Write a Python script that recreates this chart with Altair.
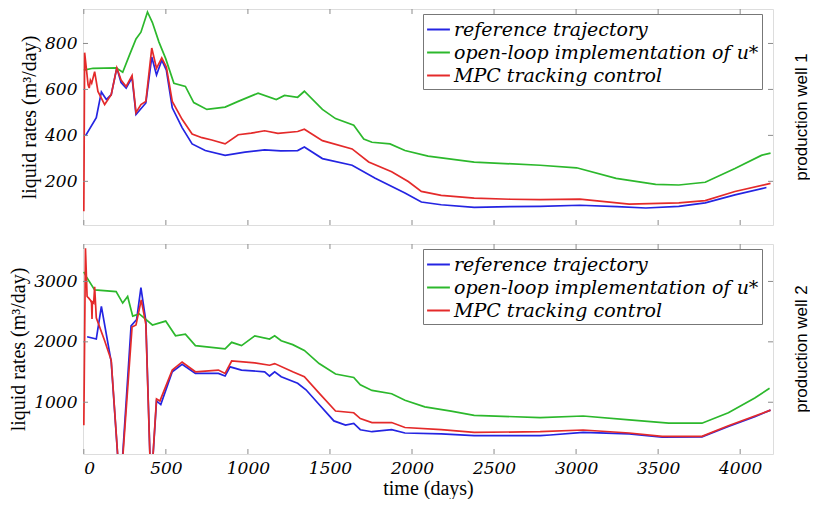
import altair as alt
import pandas as pd

SERIES = ["reference trajectory", "open-loop implementation of u*", "MPC tracking control"]
COLORS = ["#2424e2", "#2cb82c", "#e42a2a"]

# ---- production well 1 ----
w1_ref_days = [10, 76, 107, 137, 167, 201, 227, 258, 294, 318, 378, 414, 443, 475, 503, 539, 599, 660, 740, 861, 982, 1102, 1200, 1303, 1344, 1454, 1635, 1776, 1957, 2057, 2178, 2379, 2600, 2781, 3023, 3250, 3425, 3626, 3787, 3968, 4160]
w1_ref_vals = [398, 477, 589, 556, 577, 694, 630, 606, 652, 491, 541, 741, 663, 727, 684, 520, 434, 363, 334, 313, 327, 337, 333, 334, 349, 299, 270, 213, 149, 110, 98, 87, 90, 91, 96, 90, 84, 91, 106, 141, 173]

w1_ol_days = [0, 56, 197, 237, 278, 318, 348, 388, 418, 458, 499, 549, 619, 670, 750, 861, 941, 1062, 1173, 1223, 1303, 1344, 1454, 1534, 1645, 1706, 1756, 1866, 1957, 2098, 2379, 2781, 3003, 3244, 3485, 3626, 3787, 3968, 4129, 4185]
w1_ol_vals = [684, 692, 694, 675, 749, 820, 849, 937, 891, 806, 734, 627, 613, 543, 513, 523, 548, 584, 556, 574, 566, 592, 513, 473, 444, 384, 370, 363, 334, 310, 284, 270, 259, 213, 187, 184, 196, 256, 313, 323]

w1_mpc_days = [0, 5, 26, 33, 40, 48, 66, 86, 127, 167, 201, 227, 258, 294, 318, 348, 378, 414, 443, 475, 503, 539, 599, 660, 720, 780, 861, 941, 1020, 1102, 1183, 1303, 1344, 1454, 1635, 1736, 1876, 1977, 2057, 2178, 2379, 2600, 2781, 3023, 3324, 3626, 3787, 3968, 4185]
w1_mpc_vals = [70, 760, 620, 606, 640, 627, 677, 591, 534, 577, 694, 641, 613, 660, 499, 534, 548, 780, 692, 737, 698, 548, 470, 406, 390, 380, 363, 403, 410, 420, 409, 417, 427, 377, 341, 284, 242, 199, 156, 139, 127, 122, 120, 123, 101, 106, 116, 156, 191]

# ---- production well 2 ----
w2_ref_days = [20, 76, 107, 137, 167, 222, 288, 322, 348, 378, 409, 443, 469, 539, 599, 680, 820, 861, 891, 961, 1102, 1132, 1163, 1203, 1303, 1354, 1434, 1524, 1595, 1645, 1685, 1756, 1876, 1957, 2178, 2379, 2781, 2842, 3043, 3324, 3525, 3767, 3928, 4089, 4185]
w2_ref_vals = [2084, 2046, 2588, 2127, 1667, -500, 2263, 2371, 2898, 2344, -430, 1022, 962, 1504, 1629, 1477, 1477, 1434, 1586, 1532, 1504, 1434, 1504, 1423, 1314, 1206, 962, 691, 621, 648, 545, 512, 545, 491, 475, 447, 447, 458, 501, 475, 420, 428, 599, 761, 870]

w2_ol_days = [0, 16, 66, 197, 237, 267, 298, 338, 378, 418, 499, 559, 619, 680, 861, 901, 961, 1042, 1132, 1163, 1203, 1273, 1344, 1434, 1534, 1645, 1685, 1756, 1876, 1957, 2078, 2238, 2379, 2781, 3043, 3324, 3565, 3767, 3928, 4089, 4179]
w2_ol_vals = [3157, 3076, 2859, 2832, 2642, 2751, 2426, 2463, 2371, 2279, 2344, 2100, 2127, 1938, 1883, 1992, 1938, 2100, 2046, 2100, 2019, 1954, 1857, 1640, 1467, 1411, 1288, 1195, 1141, 1033, 924, 854, 783, 745, 772, 707, 653, 653, 826, 1070, 1232]

w2_mpc_days = [0, 10, 20, 30, 40, 47, 50, 52, 60, 66, 76, 127, 167, 222, 294, 318, 350, 378, 409, 443, 464, 539, 599, 680, 820, 861, 901, 1042, 1132, 1163, 1273, 1344, 1434, 1534, 1645, 1685, 1756, 1876, 1957, 2178, 2379, 2781, 3043, 3324, 3525, 3767, 3928, 4089, 4185]
w2_mpc_vals = [620, 3548, 2751, 2724, 2690, 2650, 2380, 2660, 2640, 2913, 2398, 2019, 1694, -500, 2247, 2279, 2696, 2290, -430, 1054, 1022, 1532, 1667, 1504, 1532, 1477, 1683, 1651, 1613, 1640, 1504, 1423, 1152, 854, 826, 729, 664, 664, 582, 545, 501, 512, 540, 491, 436, 436, 610, 772, 870]

x_ticks = [0, 500, 1000, 1500, 2000, 2500, 3000, 3500, 4000]
w1_y_ticks = [200, 400, 600, 800]
w2_y_ticks = [1000, 2000, 3000]

W = 690
FRAME = "#8c8c8c"


def build(series_lists):
    rows = []
    for name, (days, vals) in zip(SERIES, series_lists):
        for i, (d, v) in enumerate(zip(days, vals)):
            rows.append({"day": d, "rate": v, "series": name, "idx": i})
    return pd.DataFrame(rows)


def panel(df, y_domain, y_ticks, height, show_x, right_title):
    xs = alt.Scale(domain=[-5, 4200], nice=False, zero=False)
    ys = alt.Scale(domain=y_domain, nice=False, zero=False)
    if show_x:
        xaxis = alt.Axis(values=x_ticks, format="d", ticks=False, domain=False, grid=False,
                         labelFont="DejaVu Serif", labelFontStyle="italic", labelFontSize=17,
                         labelColor="black", labelPadding=6, title="time (days)",
                         titleFont="Liberation Serif", titleFontSize=20, titleFontWeight="normal",
                         titleColor="black", titlePadding=2)
    else:
        xaxis = alt.Axis(values=x_ticks, ticks=False, domain=False, grid=False,
                         labels=False, title=None)
    yaxis = alt.Axis(values=y_ticks, format="d", ticks=False, domain=False, grid=False,
                     labelFont="DejaVu Serif", labelFontStyle="italic", labelFontSize=17,
                     labelColor="black", labelPadding=6, title="liquid rates (m³/day)",
                     titleFont="Liberation Serif", titleFontSize=20, titleFontWeight="normal",
                     titleColor="black", titlePadding=5)
    lines = alt.Chart(df).mark_line(clip=True, strokeWidth=1.7).encode(
        x=alt.X("day:Q", scale=xs, axis=xaxis),
        y=alt.Y("rate:Q", scale=ys, axis=yaxis),
        color=alt.Color("series:N", scale=alt.Scale(domain=SERIES, range=COLORS), sort=SERIES,
                        legend=alt.Legend(title=None, orient="none", legendX=340, legendY=5,
                                          direction="vertical", fillColor="white",
                                          strokeColor="#777777", padding=3, rowPadding=0,
                                          symbolType="stroke", symbolStrokeWidth=2,
                                          symbolSize=520, labelFont="DejaVu Serif",
                                          labelFontStyle="italic", labelFontSize=19,
                                          labelLimit=400, labelOffset=3, labelColor="black")),
        detail="series:N",
        order="idx:Q",
    )
    yt = pd.DataFrame({"v": y_ticks})
    xt = pd.DataFrame({"v": x_ticks})
    left_ticks = alt.Chart(yt).mark_rule(color=FRAME).encode(
        y=alt.Y("v:Q", scale=ys, axis=yaxis), x=alt.value(0), x2=alt.value(5))
    right_ticks = alt.Chart(yt).mark_rule(color=FRAME).encode(
        y=alt.Y("v:Q", scale=ys, axis=yaxis), x=alt.value(W - 5), x2=alt.value(W))
    bottom_ticks = alt.Chart(xt).mark_rule(color=FRAME).encode(
        x=alt.X("v:Q", scale=xs, axis=xaxis), y=alt.value(height - 5), y2=alt.value(height))
    top_ticks = alt.Chart(xt).mark_rule(color=FRAME).encode(
        x=alt.X("v:Q", scale=xs, axis=xaxis), y=alt.value(0), y2=alt.value(5))
    return alt.layer(lines, left_ticks, right_ticks, bottom_ticks, top_ticks).properties(
        width=W, height=height,
        title=alt.TitleParams(right_title, orient="right", angle=270, anchor="middle",
                              font="Liberation Sans", fontSize=17, fontWeight="normal",
                              color="black", offset=3),
    )


df1 = build([(w1_ref_days, w1_ref_vals), (w1_ol_days, w1_ol_vals), (w1_mpc_days, w1_mpc_vals)])
df2 = build([(w2_ref_days, w2_ref_vals), (w2_ol_days, w2_ol_vals), (w2_mpc_days, w2_mpc_vals)])

top = panel(df1, [10, 950], w1_y_ticks, 216, False, "production well 1")
bottom = panel(df2, [143, 3620], w2_y_ticks, 210, True, "production well 2")

chart = alt.vconcat(top, bottom, spacing=17, padding=0).resolve_scale(
    color="independent"
).configure_view(stroke=FRAME, strokeWidth=1).configure(background="white", padding=0)

chart.save("out.html", embed_options={"renderer": "svg", "actions": False})
